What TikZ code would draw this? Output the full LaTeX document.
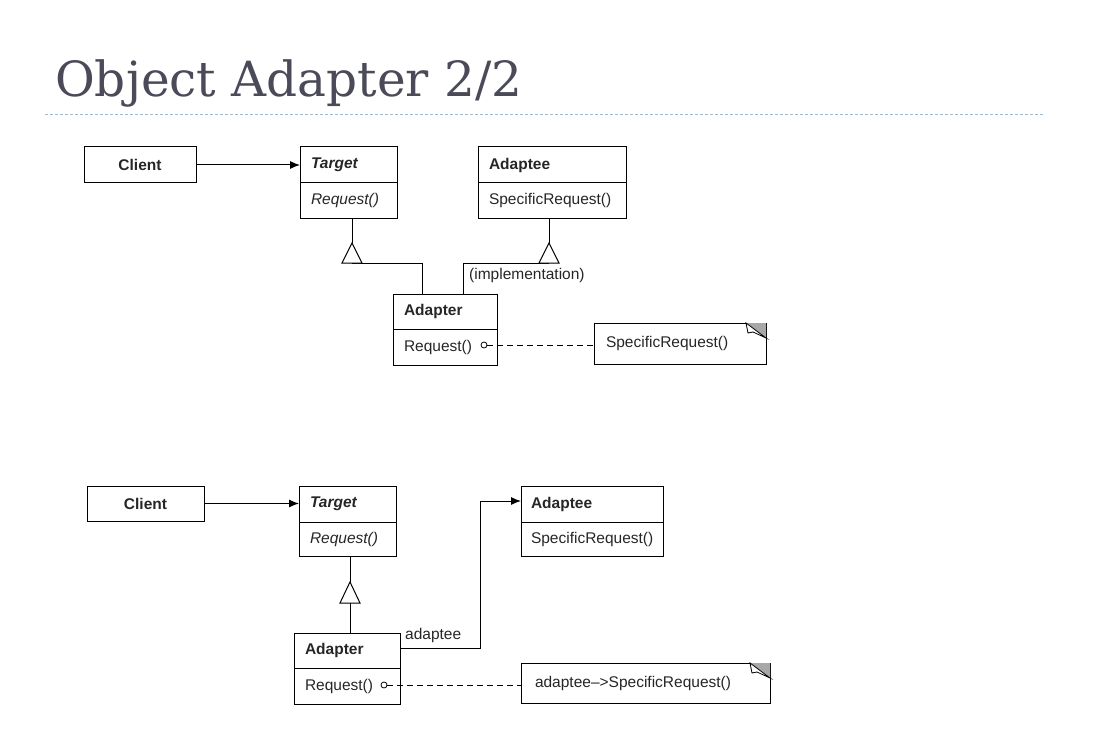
\documentclass[tikz,border=0pt]{standalone}
\usepackage{fontspec}
\setmainfont{Liberation Sans}
\newfontfamily\titlefont{DejaVu Serif}
\usetikzlibrary{arrows.meta,calc}
\definecolor{titlecol}{HTML}{4A4A58}
\definecolor{rulecol}{HTML}{9DBCD4}
\definecolor{txt}{HTML}{262626}
\definecolor{earcol}{HTML}{A8A8A8}
\tikzset{
  cls/.style={draw, line width=1pt, rectangle, anchor=north west, inner xsep=11pt, inner ysep=0pt,
    outer sep=0pt, align=left, text=txt, font=\fontsize{15.5}{17}\selectfont},
  plainbox/.style={draw, line width=1pt, rectangle, anchor=north west, inner sep=0pt, outer sep=0pt,
    text=txt, font=\fontsize{15.5}{17}\selectfont\bfseries},
  conn/.style={line width=1pt},
  assoc/.style={line width=1pt, -{Latex[length=10pt,width=8pt]}},
  dep/.style={line width=1pt, dash pattern=on 6pt off 4pt},
  lbl/.style={text=txt, font=\fontsize{15.5}{17}\selectfont, inner sep=0pt},
  gen/.style={line width=1pt, fill=white},
}
\newcommand{\dogear}[1]{%
  \fill[earcol] ($(#1.north east)+(-20,0)$) -- (#1.north east) -- ($(#1.north east)+(0,15)$) -- cycle;
  \draw[line width=0.8pt, fill=white] ($(#1.north east)+(-20,0)$) -- ($(#1.north east)+(-18,10)$)
     -- ($(#1.north east)+(-13,9)$) -- ($(#1.north east)+(0,15)$) -- cycle;
}
\begin{document}
\begin{tikzpicture}[x=1pt,y=-1pt]
\useasboundingbox (0,0) rectangle (1093,733);
% title
\node[anchor=base west, inner sep=0pt, text=titlecol, font=\titlefont\fontsize{48.5}{52}\selectfont] (title) at (55,97) {Object Adapter 2/2};
\coordinate (r1) at (45,114);
\coordinate (r2) at (1043,114);
\draw[rulecol, line width=0.8pt, dash pattern=on 3pt off 2pt] (r1) -- (r2);

% ---------- top diagram ----------
\node[plainbox, minimum width=112, minimum height=36] (c1) at (84,147) {Client};
\node[cls, text width=75, minimum height=36] (t1h) at (300,147) {\bfseries\itshape Target};
\node[cls, text width=75, minimum height=35] (t1b) at (300,183) {\itshape Request()};
\node[cls, text width=126, minimum height=36] (e1h) at (478,147) {\bfseries Adaptee};
\node[cls, text width=126, minimum height=35] (e1b) at (478,183) {SpecificRequest()};
\node[cls, text width=82, minimum height=35] (a1h) at (393,294) {\bfseries Adapter};
\node[cls, text width=82, minimum height=36] (a1b) at (393,329) {Request()};
\node[cls, inner xsep=12pt, text width=148, minimum height=41] (n1) at (594,323) {SpecificRequest()};
\dogear{n1}

\draw[assoc] (c1.east) -- (c1.east -| t1h.west);
% generalization Adapter -> Target
\coordinate (g1a) at (352,243);
\coordinate (g1b) at (352,263);
\draw[conn] (t1b.south -| g1a) -- (g1a);
\draw[conn] (g1b) -| (a1h.north -| 422,0);
\draw[gen] (g1a) -- ($(g1b)+(-10,0)$) -- ($(g1b)+(10,0)$) -- cycle;
% generalization Adapter -> Adaptee (implementation)
\coordinate (g2a) at (549,243);
\coordinate (g2b) at (549,263);
\draw[conn] (e1b.south -| g2a) -- (g2a);
\draw[conn] (g2b) -| (a1h.north -| 463,0);
\draw[gen] (g2a) -- ($(g2b)+(-10,0)$) -- ($(g2b)+(10,0)$) -- cycle;
\node[lbl, anchor=west] (impl) at (469,275) {(implementation)};
% note link
\node[circle, draw, line width=0.8pt, minimum size=6pt, inner sep=0pt] (o1) at (484,345) {};
\draw[dep] (o1.east) -- (o1.east -| n1.west);

% ---------- bottom diagram ----------
\node[plainbox, minimum width=117, minimum height=35] (c2) at (87,486) {Client};
\node[cls, text width=75, minimum height=36] (t2h) at (299,486) {\bfseries\itshape Target};
\node[cls, text width=75, minimum height=34] (t2b) at (299,522) {\itshape Request()};
\node[cls, inner xsep=10pt, text width=122, minimum height=36] (e2h) at (521,486) {\bfseries Adaptee};
\node[cls, inner xsep=10pt, text width=122, minimum height=34] (e2b) at (521,522) {SpecificRequest()};
\node[cls, text width=84, minimum height=35] (a2h) at (294,633) {\bfseries Adapter};
\node[cls, text width=84, minimum height=36] (a2b) at (294,668) {Request()};
\node[cls, inner xsep=14pt, text width=221, minimum height=40] (n2) at (521,663) {adaptee\textendash>SpecificRequest()};
\dogear{n2}

\draw[assoc] (c2.east) -- (c2.east -| t2h.west);
\coordinate (g3a) at (350,582);
\coordinate (g3b) at (350,603);
\draw[conn] (t2b.south -| g3a) -- (g3a);
\draw[conn] (g3b) -- (a2h.north -| g3b);
\draw[gen] (g3a) -- ($(g3b)+(-10,0)$) -- ($(g3b)+(10,0)$) -- cycle;
% adaptee association
\coordinate (ad1) at (400,648);
\coordinate (ad2) at (480,648);
\coordinate (ad3) at (480,501);
\draw[assoc] (a2h.east |- ad1) -- (ad2) -- (ad3) -- (ad3 -| e2h.west);
\node[lbl, anchor=west] (adl) at (405,635) {adaptee};
\node[circle, draw, line width=0.8pt, minimum size=6pt, inner sep=0pt] (o2) at (384,685) {};
\draw[dep] (o2.east) -- (o2.east -| n2.west);
\end{tikzpicture}
\end{document}
